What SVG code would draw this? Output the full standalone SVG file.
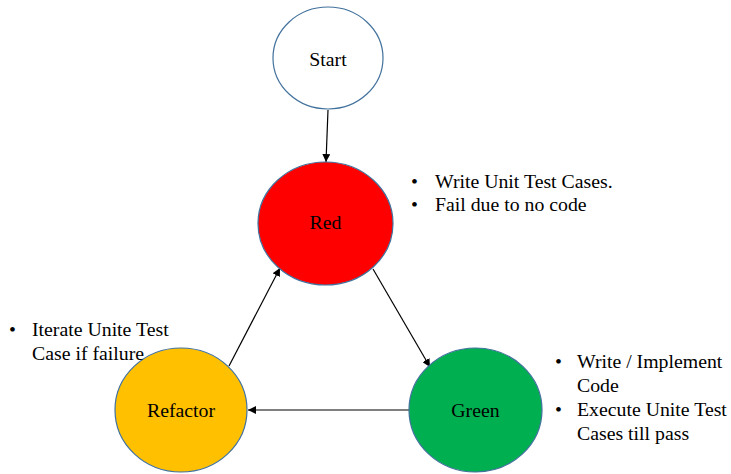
<svg xmlns="http://www.w3.org/2000/svg" width="731" height="474" viewBox="0 0 731 474">
<style>
text{font-size:19.8px;fill:#000}
.lbl{text-anchor:middle}
.node{stroke:#41719C;stroke-width:1.2}
.conn{stroke:#000;stroke-width:1.2;fill:none;marker-end:url(#ah)}
</style>
<defs>
<marker id="ah" viewBox="0 0 10 10" refX="10" refY="5" markerWidth="8" markerHeight="8" markerUnits="userSpaceOnUse" orient="auto">
<path d="M0,0 L10,5 L0,10 z" fill="#000"/>
</marker>
</defs>
<rect width="731" height="474" fill="#fff"/>
<g id="connectors">
<line class="conn" x1="328" y1="110" x2="326" y2="162"/>
<line class="conn" x1="373" y1="269" x2="430" y2="367"/>
<line class="conn" x1="229" y1="366" x2="280" y2="268"/>
<line class="conn" x1="409" y1="410" x2="248" y2="410"/>
</g>
<g font-family="Liberation Serif, DejaVu Serif, serif">
<g id="start">
<ellipse class="node" cx="328" cy="58" rx="55" ry="51" fill="#fff"/>
<text class="lbl" x="328" y="66">Start</text>
</g>
<g id="red">
<ellipse class="node" cx="325.5" cy="223.5" rx="67.5" ry="61.5" fill="#FF0000"/>
<text class="lbl" x="325.5" y="229">Red</text>
</g>
<g id="refactor">
<ellipse class="node" cx="181" cy="410" rx="66" ry="62" fill="#FFC000"/>
<text class="lbl" x="181" y="417">Refactor</text>
</g>
<g id="green">
<ellipse class="node" cx="475.5" cy="410" rx="66.5" ry="62" fill="#00B050"/>
<text class="lbl" x="475.5" y="417">Green</text>
</g>
<g id="note-red">
<text x="411" y="188">•</text><text x="435" y="188">Write Unit Test Cases.</text>
<text x="411" y="211">•</text><text x="435" y="211">Fail due to no code</text>
</g>
<g id="note-refactor">
<text x="9" y="336">•</text><text x="32" y="336">Iterate Unite Test</text>
<text x="32" y="360">Case if failure</text>
</g>
<g id="note-green">
<text x="555" y="368">•</text><text x="577" y="368">Write / Implement</text>
<text x="577" y="392">Code</text>
<text x="555" y="416">•</text><text x="577" y="416">Execute Unite Test</text>
<text x="577" y="440">Cases till pass</text>
</g>
</g>
</svg>
